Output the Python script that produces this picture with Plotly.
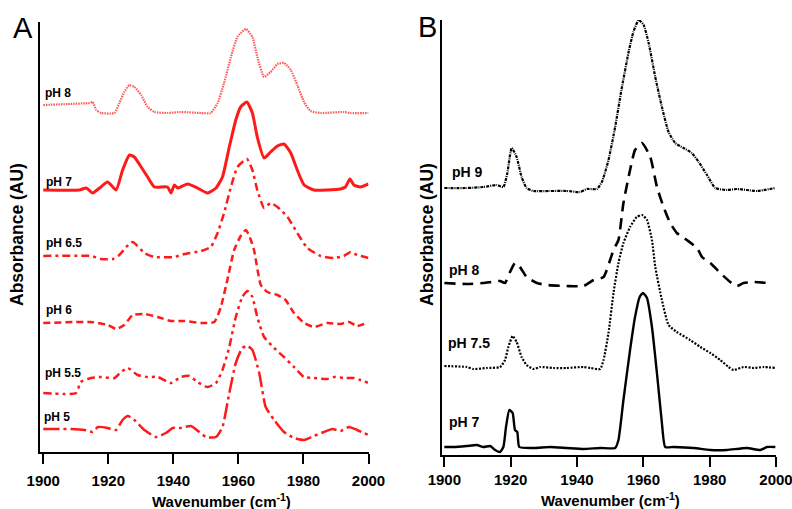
import plotly.graph_objects as go

W, H = 792, 509

# ---------------- Panel A data (wavenumber, absorbance offset, AU) ----------------
A_pH8_x = [1900, 1907.6, 1914.2, 1915.2, 1916.3, 1917.8, 1921.9, 1923.4, 1924.9, 1926.5, 1928.0, 1930.1,
           1932.1, 1934.2, 1938.2, 1942.3, 1948.5, 1951.5, 1953.6, 1955.6, 1957.7, 1959.7, 1962.3, 1964.3,
           1965.8, 1967.9, 1969.9, 1972.0, 1974.0, 1976.1, 1978.1, 1980.2, 1982.2, 1985.3, 1992.4, 1994.5, 2000]
A_pH8_y = [346, 347, 348, 349, 341, 338, 338, 348, 359, 366, 364, 356, 344, 339, 338, 339, 338, 338, 348,
           368, 394, 414, 422, 414, 394, 374, 379, 387, 388, 381, 366, 349, 340, 338, 339, 338, 338]

A_pH7_x = [1900, 1911.1, 1913.2, 1915.2, 1917.3, 1919.8, 1922.4, 1924.4, 1926.5, 1928.0, 1930.1, 1932.1,
           1934.2, 1938.2, 1939.3, 1940.3, 1941.3, 1944.4, 1947.4, 1950.5, 1953.1, 1955.1, 1957.2, 1959.2,
           1960.7, 1962.6, 1964.3, 1965.8, 1967.9, 1969.9, 1972.0, 1974.0, 1976.1, 1978.1, 1980.2, 1983.2,
           1987.3, 1991.4, 1992.9, 1994.3, 1995.5, 1997.5, 2000]
A_pH7_y = [261, 261, 263, 258, 263, 269, 261, 281, 296, 294, 284, 274, 264, 264, 258, 266, 263, 267, 263,
           258, 263, 274, 304, 331, 344, 349, 338, 314, 293, 299, 305, 307, 298, 281, 266, 261, 261, 262,
           264, 272, 266, 264, 267]

A_pH65_x = [1900, 1914.7, 1917.8, 1921.4, 1923.4, 1925.5, 1927.5, 1931.1, 1934.2, 1940.3, 1943.4, 1948.5,
            1951.5, 1953.6, 1955.6, 1957.7, 1959.7, 1962.6, 1964.3, 1965.8, 1967.9, 1969.9, 1972.0, 1975.1,
            1978.1, 1981.2, 1985.3, 1989.4, 1992.4, 1994.5, 1996.5, 2000]
A_pH65_y = [195, 195, 192, 192, 196, 204, 209, 198, 194, 194, 197, 200, 204, 218, 238, 264, 284, 292, 281,
            261, 243, 248, 244, 234, 218, 203, 195, 193, 195, 199, 196, 193]

A_pH6_x = [1900, 1914.7, 1919.8, 1922.4, 1924.9, 1927.5, 1931.1, 1935.2, 1939.3, 1943.4, 1948.5, 1952.6,
           1954.6, 1956.6, 1958.7, 1960.7, 1962.3, 1963.6, 1964.8, 1966.9, 1968.9, 1972.0, 1974.5, 1977.1,
           1980.2, 1983.2, 1987.3, 1991.4, 1994.0, 1996.5, 2000]
A_pH6_y = [128, 129, 126, 122, 126, 136, 137, 134, 130, 130, 128, 129, 144, 171, 201, 215, 221, 213, 201,
           166, 159, 156, 151, 138, 128, 124, 128, 127, 129, 125, 129]

A_pH55_x = [1900, 1910.1, 1911.5, 1914.7, 1917.8, 1921.9, 1923.9, 1926.0, 1929.0, 1932.1, 1935.2, 1939.3,
            1942.3, 1944.9, 1947.4, 1950.5, 1953.1, 1955.1, 1957.2, 1959.2, 1961.2, 1962.8, 1964.3, 1965.8,
            1967.9, 1971.0, 1974.0, 1977.1, 1980.2, 1983.2, 1987.3, 1989.4, 1992.4, 1995.5, 1997.5, 2000]
A_pH55_y = [58, 58, 69, 73, 74, 73, 79, 83, 76, 74, 74, 68, 74, 75, 69, 64, 68, 81, 104, 134, 154, 160,
            154, 134, 114, 103, 94, 84, 74, 73, 72, 74, 73, 73, 71, 68]

A_pH5_x = [1900, 1908.6, 1912.7, 1915.2, 1916.8, 1919.8, 1922.4, 1924.4, 1926.0, 1928.0, 1931.1, 1934.7,
           1937.7, 1939.8, 1942.3, 1945.4, 1948.0, 1950.0, 1953.1, 1955.1, 1957.2, 1959.2, 1961.2, 1962.8,
           1964.3, 1966.4, 1968.4, 1971.0, 1974.0, 1977.1, 1980.2, 1983.2, 1986.3, 1988.9, 1991.4, 1994.0,
           1996.5, 2000]
A_pH5_y = [22, 22, 21, 19, 24, 23, 21, 31, 35, 31, 21, 14, 18, 23, 23, 25, 19, 14, 14, 24, 58, 88, 103,
           105, 101, 78, 44, 31, 19, 13, 11, 15, 19, 22, 20, 24, 21, 16]

A_labels = ["pH 8", "pH 7", "pH 6.5", "pH 6", "pH 5.5", "pH 5"]

# ---------------- Panel B data ----------------
B_pH9_x = [1900, 1906.7, 1911.8, 1915.8, 1917.8, 1919.0, 1920.3, 1921.8, 1923.3, 1924.8, 1926.9, 1931.9,
           1936.9, 1940.9, 1943.0, 1946.0, 1947.5, 1949.5, 1951.5, 1953.4, 1955.5, 1957.0, 1958.6, 1960.1,
           1961.6, 1963.6, 1965.6, 1967.6, 1969.6, 1972.1, 1974.6, 1976.7, 1979.2, 1981.7, 1985.2, 1988.2,
           1991.2, 1994.3, 1999.8]
B_pH9_y = [267, 267, 268, 270, 268, 282, 307, 298, 278, 267, 264, 264, 264, 263, 266, 266, 273, 295, 328,
           365, 402, 423, 435, 430, 412, 378, 348, 323, 312, 307, 302, 293, 280, 267, 265, 266, 265, 264, 267]

B_pH8_x = [1900, 1906.7, 1911.8, 1916.8, 1918.3, 1919.8, 1921.3, 1922.8, 1924.8, 1927.9, 1930.9, 1936.9,
           1942.0, 1945.0, 1948.0, 1950.0, 1951.0, 1952.5, 1954.0, 1956.0, 1957.5, 1959.6, 1962.1, 1964.1,
           1966.1, 1968.1, 1970.1, 1973.1, 1976.2, 1977.7, 1980.2, 1983.2, 1986.2, 1988.2, 1990.2, 1993.3,
           1997.8]
B_pH8_y = [172, 171, 172, 174, 172, 183, 192, 188, 178, 172, 170, 169, 169, 175, 178, 195, 205, 215, 252,
           285, 305, 312, 298, 268, 248, 232, 222, 215, 207, 198, 192, 182, 173, 169, 172, 173, 172]

B_pH75_x = [1900, 1906.7, 1908.8, 1912.8, 1916.8, 1918.3, 1919.3, 1920.6, 1921.8, 1923.3, 1924.8, 1926.9,
            1928.9, 1932.9, 1936.9, 1942.0, 1944.0, 1947.0, 1948.0, 1949.5, 1951.0, 1952.5, 1954.0, 1956.0,
            1958.0, 1959.6, 1961.1, 1962.6, 1963.6, 1965.6, 1967.6, 1970.1, 1974.1, 1977.2, 1980.2, 1983.2,
            1985.7, 1987.2, 1990.2, 1993.3, 1996.3, 1999.8]
B_pH75_y = [89, 88, 86, 87, 88, 95, 108, 119, 113, 98, 90, 86, 88, 87, 87, 88, 87, 86, 95, 122, 162, 192,
            212, 228, 238, 240, 235, 215, 188, 155, 130, 123, 115, 108, 102, 95, 88, 85, 88, 87, 88, 87]

B_pH7_x = [1900, 1902.7, 1906.7, 1909.8, 1911.8, 1913.8, 1915.3, 1916.8, 1917.8, 1918.6, 1919.6, 1920.6,
           1921.3, 1922.0, 1922.6, 1926.9, 1931.9, 1936.9, 1942.0, 1947.0, 1951.5, 1952.5, 1954.0, 1956.0,
           1957.5, 1958.9, 1959.9, 1961.1, 1962.6, 1964.1, 1965.6, 1966.6, 1969.1, 1975.2, 1980.2, 1985.2,
           1991.2, 1995.3, 1997.3, 1999.8]
B_pH7_y = [8, 8, 9, 10, 8, 9, 5, 3, 8, 28, 45, 42, 25, 23, 8, 7, 8, 7, 6, 7, 7, 15, 55, 105, 138, 158, 162,
           157, 128, 82, 32, 8, 8, 7, 5, 5, 7, 5, 8, 8]

B_labels = ["pH 9", "pH 8", "pH 7.5", "pH 7"]

x_ticks = [1900, 1920, 1940, 1960, 1980, 2000]

# ---------------- styling ----------------
RED = "#ff1a1a"
LIGHTRED = "#ff5a5a"
BLACK = "#000000"
SANS = "Liberation Sans, Arial, sans-serif"

fig = go.Figure()

def add(x, y, color, width, dash, axis):
    fig.add_trace(go.Scatter(
        x=x, y=y, mode="lines", xaxis="x" + axis, yaxis="y" + axis,
        line=dict(color=color, width=width, dash=dash, shape="spline", smoothing=0.5),
        showlegend=False, hoverinfo="skip"))

add(A_pH8_x, A_pH8_y, LIGHTRED, 2.2, "1.5px,1px", "")
add(A_pH7_x, A_pH7_y, RED, 3, "solid", "")
add(A_pH65_x, A_pH65_y, RED, 2.5, "8px,4px,3px,4px", "")
add(A_pH6_x, A_pH6_y, RED, 2.5, "7px,4px", "")
add(A_pH55_x, A_pH55_y, RED, 2.5, "8px,4px,3px,4px,3px,4px", "")
add(A_pH5_x, A_pH5_y, RED, 2.5, "16px,4px,3px,4px", "")

add(B_pH9_x, B_pH9_y, BLACK, 2.2, "3px,1px,1px,1px", "2")
add(B_pH8_x, B_pH8_y, BLACK, 2.6, "11px,7px", "2")
add(B_pH75_x, B_pH75_y, BLACK, 2.2, "2px,1.5px", "2")
add(B_pH7_x, B_pH7_y, BLACK, 2.4, "solid", "2")

def px2paper(px, py):
    return px / W, 1 - py / H

def xaxis_style(x0, x1, rng, y_anchor, standoff):
    return dict(domain=[x0 / W, x1 / W], range=rng, anchor=y_anchor, automargin=False,
                showline=True, linecolor="black", linewidth=2, mirror=False,
                showgrid=False, zeroline=False,
                ticks="outside", ticklen=10, tickwidth=2, tickcolor="black",
                tickvals=x_ticks, ticktext=[str(v) for v in x_ticks],
                ticklabelstandoff=standoff, ticklabeloverflow="allow",
                tickfont=dict(family=SANS, size=15, color="black", weight="bold"))

def yaxis_style(y_top, y_bot, rng, x_anchor):
    return dict(domain=[1 - y_bot / H, 1 - y_top / H], range=rng, anchor=x_anchor, automargin=False,
                showline=True, linecolor="black", linewidth=2,
                showgrid=False, zeroline=False, showticklabels=False, ticks="")

fig.update_layout(
    template="none",
    width=W, height=H,
    margin=dict(l=0, r=0, t=0, b=0, pad=0, autoexpand=False),
    paper_bgcolor="white", plot_bgcolor="white",
    xaxis=xaxis_style(40, 368.5, [1899.0, 2000], "y", 4),
    yaxis=yaxis_style(22, 452, [-1, 429], "x"),
    xaxis2=xaxis_style(442, 776, [1899.3, 2000], "y2", 0),
    yaxis2=yaxis_style(20, 455, [0, 435], "x2"),
)

ann = []
def text(px, py, s, size, family=SANS, bold=True, xanchor="left", angle=0):
    x, y = px2paper(px, py)
    ann.append(dict(x=x, y=y, xref="paper", yref="paper", text=s, showarrow=False,
                    xanchor=xanchor, yanchor="middle", textangle=angle,
                    font=dict(family=family, size=size, color="black",
                              weight="bold" if bold else "normal")))

A_label_pos = [(43, 93), (44, 182), (44, 243), (44, 310), (43, 373), (42, 417)]
for lab, (px, py) in zip(A_labels, A_label_pos):
    text(px, py, lab, 12)
B_label_pos = [(450, 172), (447, 270), (446, 343), (447, 422)]
for lab, (px, py) in zip(B_labels, B_label_pos):
    text(px, py, lab, 14)

text(17, 235, "Absorbance (AU)", 17.5, xanchor="center", angle=-90)
text(427, 235, "Absorbance (AU)", 17.5, xanchor="center", angle=-90)
text(222, 500, "Wavenumber (cm<sup>-1</sup>)", 15, xanchor="center")
text(610, 499, "Wavenumber (cm<sup>-1</sup>)", 15, xanchor="center")
text(23, 28, "A", 29, bold=False, xanchor="center")
text(427, 27, "B", 29, bold=False, xanchor="center")

fig.update_layout(annotations=ann)
fig.write_html("out.html")
